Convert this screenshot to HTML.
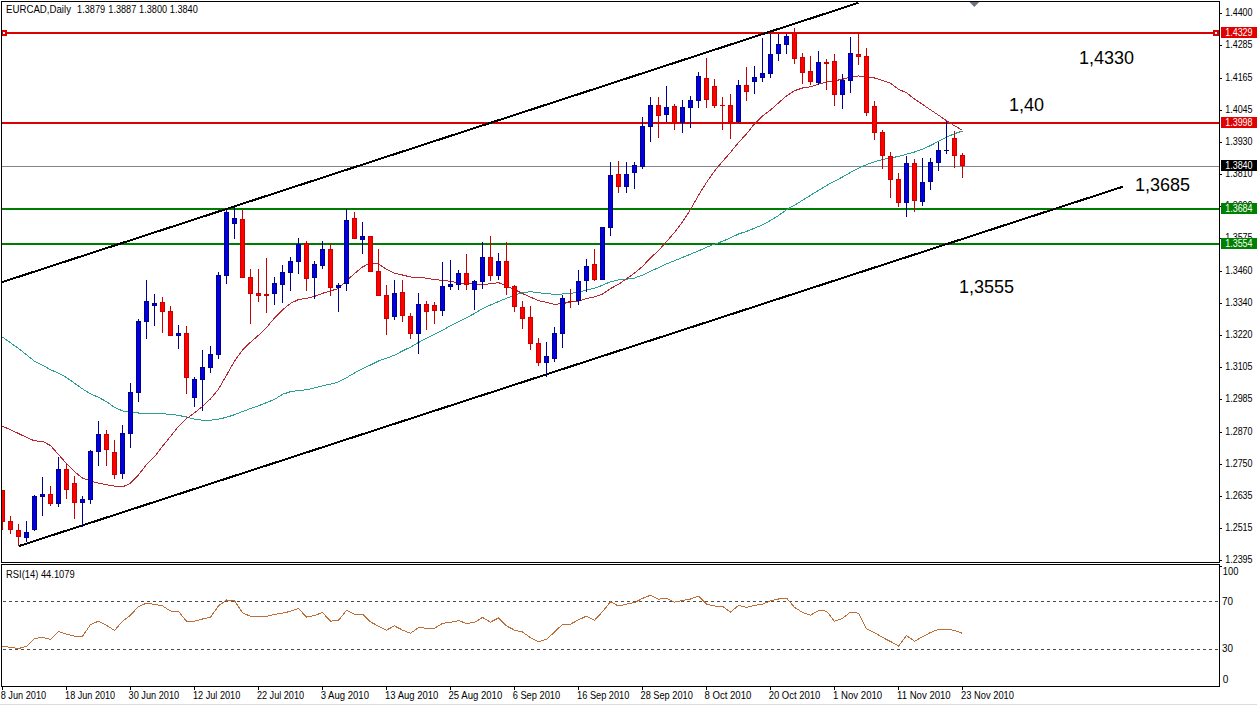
<!DOCTYPE html><html><head><meta charset="utf-8"><title>EURCAD,Daily</title><style>html,body{margin:0;padding:0;background:#fff;width:1257px;height:705px;overflow:hidden}svg{display:block} text{font-family:'Liberation Sans', Arial, sans-serif;}</style></head><body>
<svg width="1257" height="705" viewBox="0 0 1257 705" shape-rendering="crispEdges">
<rect x="0" y="0" width="1257" height="705" fill="#ffffff"/>
<rect x="0" y="704" width="1257" height="1" fill="#dcdcdc"/>
<defs><clipPath id="mc"><rect x="2" y="2" width="1217" height="560"/></clipPath><clipPath id="rc"><rect x="2" y="565" width="1217" height="121"/></clipPath></defs>
<g clip-path="url(#mc)">
<rect x="2" y="32" width="1217" height="2" fill="#dc0000"/>
<rect x="2" y="122" width="1217" height="2" fill="#dc0000"/>
<rect x="2" y="208" width="1217" height="2" fill="#007d00"/>
<rect x="2" y="243" width="1217" height="2" fill="#007d00"/>
<rect x="2" y="166" width="1217" height="1" fill="#80848c"/>
<polyline points="2.5,337.1 10.5,342.8 18.5,348.4 26.5,354.8 34.5,361.2 42.5,365.2 50.5,369.7 58.5,373.3 66.5,377.5 74.5,383.2 82.5,388.9 90.5,393.8 98.5,397.4 106.5,401.6 114.5,407.3 122.5,410.9 130.5,412.3 138.5,413.0 146.5,413.0 154.5,413.4 162.5,413.8 170.5,414.3 178.5,415.4 186.5,417.0 194.5,419.2 202.5,420.2 210.5,420.2 218.5,419.2 226.5,417.3 234.5,414.7 242.5,411.5 250.5,408.6 258.5,405.8 266.5,402.6 274.5,399.4 282.5,394.3 290.5,391.7 298.5,390.4 306.5,389.8 314.5,387.9 322.5,385.8 330.5,384.1 338.5,382.0 346.5,377.7 354.5,373.0 362.5,368.8 370.5,365.0 378.5,361.0 386.5,358.2 394.5,355.2 402.5,351.0 410.5,347.1 418.5,342.5 426.5,338.1 434.5,334.4 442.5,330.2 450.5,325.8 458.5,321.9 466.5,317.8 474.5,313.4 482.5,308.5 490.5,305.0 498.5,301.6 506.5,298.3 514.5,295.0 522.5,292.7 530.5,291.7 538.5,292.6 546.5,293.7 554.5,294.3 562.5,294.0 570.5,293.3 578.5,292.3 586.5,290.1 594.5,288.1 602.5,285.3 610.5,281.7 618.5,279.9 626.5,279.2 634.5,278.1 642.5,275.1 650.5,271.3 658.5,267.7 666.5,263.9 674.5,260.7 682.5,257.4 690.5,254.2 698.5,250.9 706.5,247.3 714.5,244.1 722.5,241.3 730.5,237.9 738.5,234.0 746.5,231.4 754.5,228.2 762.5,224.9 770.5,220.5 778.5,215.5 786.5,209.8 794.5,205.2 802.5,200.3 810.5,195.3 818.5,190.4 826.5,185.5 834.5,181.2 842.5,177.0 850.5,172.4 858.5,168.1 866.5,164.7 874.5,161.7 882.5,159.7 890.5,157.7 898.5,156.6 906.5,154.1 914.5,152.0 922.5,149.2 930.5,145.6 938.5,141.3 946.5,137.2 954.5,133.7 962.5,131.0" fill="none" stroke="#2c9e94" stroke-width="1"/>
<polyline points="2.5,426.3 10.5,429.7 18.5,433.5 26.5,437.4 34.5,440.9 42.5,441.2 50.5,445.6 58.5,454.6 66.5,463.5 74.5,471.7 82.5,478.1 90.5,481.0 98.5,483.2 106.5,484.8 114.5,486.1 122.5,487.0 130.5,483.2 138.5,474.9 146.5,464.7 154.5,456.7 162.5,446.2 170.5,436.5 178.5,426.3 186.5,418.6 194.5,412.8 202.5,406.4 210.5,398.9 218.5,389.2 226.5,375.3 234.5,361.1 242.5,350.0 250.5,342.2 258.5,335.3 266.5,327.5 274.5,318.0 282.5,309.9 290.5,303.4 298.5,299.5 306.5,298.4 314.5,296.4 322.5,293.3 330.5,290.9 338.5,288.5 346.5,280.6 354.5,273.6 362.5,267.0 370.5,262.9 378.5,264.0 386.5,269.3 394.5,273.1 402.5,275.0 410.5,277.0 418.5,277.4 426.5,278.2 434.5,279.6 442.5,280.3 450.5,281.4 458.5,282.9 466.5,283.2 474.5,284.0 482.5,284.4 490.5,283.8 498.5,282.6 506.5,286.1 514.5,289.5 522.5,293.6 530.5,297.2 538.5,300.6 546.5,302.4 554.5,304.4 562.5,303.6 570.5,302.0 578.5,300.9 586.5,298.6 594.5,297.0 602.5,294.1 610.5,288.6 618.5,284.3 626.5,278.8 634.5,273.0 642.5,266.4 650.5,257.9 658.5,250.6 666.5,241.6 674.5,232.4 682.5,221.8 690.5,209.6 698.5,195.2 706.5,182.4 714.5,171.1 722.5,161.4 730.5,152.4 738.5,142.6 746.5,133.9 754.5,123.8 762.5,116.1 770.5,110.0 778.5,102.9 786.5,96.0 794.5,90.7 802.5,88.0 810.5,86.8 818.5,84.2 826.5,82.0 834.5,80.7 842.5,79.3 850.5,77.0 858.5,76.0 866.5,76.6 874.5,78.0 882.5,80.4 890.5,83.3 898.5,89.2 906.5,92.8 914.5,99.0 922.5,104.4 930.5,109.8 938.5,115.1 946.5,120.8 954.5,125.7 962.5,130.4" fill="none" stroke="#b82830" stroke-width="1"/>
<line x1="1" y1="282.5" x2="858.5" y2="2.8" stroke="#000" stroke-width="2"/>
<line x1="18.5" y1="546.2" x2="1122.9" y2="186.7" stroke="#000" stroke-width="2"/>
<rect x="1" y="30" width="6" height="6" fill="#dc0000"/>
<rect x="3" y="32" width="2" height="2" fill="#ffffff"/>
<rect x="1213" y="30" width="6" height="6" fill="#dc0000"/>
<rect x="1215" y="32" width="2" height="2" fill="#ffffff"/>
<rect x="2" y="490" width="1" height="40" fill="#c80000"/>
<rect x="0" y="490" width="5" height="32" fill="#c80000"/>
<rect x="1" y="491" width="3" height="30" fill="#ff0000"/>
<rect x="10" y="516" width="1" height="18" fill="#c80000"/>
<rect x="8" y="521" width="5" height="9" fill="#c80000"/>
<rect x="9" y="522" width="3" height="7" fill="#ff0000"/>
<rect x="18" y="524" width="1" height="22" fill="#c80000"/>
<rect x="16" y="530" width="5" height="7" fill="#c80000"/>
<rect x="17" y="531" width="3" height="5" fill="#ff0000"/>
<rect x="26" y="521" width="1" height="21" fill="#000090"/>
<rect x="24" y="532" width="5" height="6" fill="#000090"/>
<rect x="25" y="533" width="3" height="4" fill="#0000dc"/>
<rect x="34" y="495" width="1" height="36" fill="#000090"/>
<rect x="32" y="496" width="5" height="34" fill="#000090"/>
<rect x="33" y="497" width="3" height="32" fill="#0000dc"/>
<rect x="42" y="477" width="1" height="39" fill="#000090"/>
<rect x="40" y="494" width="5" height="3" fill="#000090"/>
<rect x="41" y="495" width="3" height="1" fill="#0000dc"/>
<rect x="50" y="486" width="1" height="20" fill="#c80000"/>
<rect x="48" y="494" width="5" height="10" fill="#c80000"/>
<rect x="49" y="495" width="3" height="8" fill="#ff0000"/>
<rect x="58" y="457" width="1" height="50" fill="#000090"/>
<rect x="56" y="469" width="5" height="35" fill="#000090"/>
<rect x="57" y="470" width="3" height="33" fill="#0000dc"/>
<rect x="66" y="464" width="1" height="35" fill="#c80000"/>
<rect x="64" y="469" width="5" height="21" fill="#c80000"/>
<rect x="65" y="470" width="3" height="19" fill="#ff0000"/>
<rect x="74" y="476" width="1" height="43" fill="#c80000"/>
<rect x="72" y="483" width="5" height="20" fill="#c80000"/>
<rect x="73" y="484" width="3" height="18" fill="#ff0000"/>
<rect x="82" y="496" width="1" height="31" fill="#000090"/>
<rect x="80" y="499" width="5" height="4" fill="#000090"/>
<rect x="81" y="500" width="3" height="2" fill="#0000dc"/>
<rect x="90" y="450" width="1" height="54" fill="#000090"/>
<rect x="88" y="451" width="5" height="49" fill="#000090"/>
<rect x="89" y="452" width="3" height="47" fill="#0000dc"/>
<rect x="98" y="421" width="1" height="45" fill="#000090"/>
<rect x="96" y="434" width="5" height="18" fill="#000090"/>
<rect x="97" y="435" width="3" height="16" fill="#0000dc"/>
<rect x="106" y="430" width="1" height="36" fill="#c80000"/>
<rect x="104" y="434" width="5" height="16" fill="#c80000"/>
<rect x="105" y="435" width="3" height="14" fill="#ff0000"/>
<rect x="114" y="440" width="1" height="39" fill="#c80000"/>
<rect x="112" y="452" width="5" height="23" fill="#c80000"/>
<rect x="113" y="453" width="3" height="21" fill="#ff0000"/>
<rect x="122" y="425" width="1" height="54" fill="#000090"/>
<rect x="120" y="433" width="5" height="41" fill="#000090"/>
<rect x="121" y="434" width="3" height="39" fill="#0000dc"/>
<rect x="130" y="383" width="1" height="65" fill="#000090"/>
<rect x="128" y="392" width="5" height="42" fill="#000090"/>
<rect x="129" y="393" width="3" height="40" fill="#0000dc"/>
<rect x="138" y="319" width="1" height="83" fill="#000090"/>
<rect x="136" y="321" width="5" height="72" fill="#000090"/>
<rect x="137" y="322" width="3" height="70" fill="#0000dc"/>
<rect x="146" y="280" width="1" height="59" fill="#000090"/>
<rect x="144" y="301" width="5" height="21" fill="#000090"/>
<rect x="145" y="302" width="3" height="19" fill="#0000dc"/>
<rect x="154" y="294" width="1" height="32" fill="#000090"/>
<rect x="152" y="303" width="5" height="3" fill="#000090"/>
<rect x="153" y="304" width="3" height="1" fill="#0000dc"/>
<rect x="162" y="297" width="1" height="36" fill="#c80000"/>
<rect x="160" y="302" width="5" height="10" fill="#c80000"/>
<rect x="161" y="303" width="3" height="8" fill="#ff0000"/>
<rect x="170" y="306" width="1" height="30" fill="#c80000"/>
<rect x="168" y="311" width="5" height="25" fill="#c80000"/>
<rect x="169" y="312" width="3" height="23" fill="#ff0000"/>
<rect x="178" y="325" width="1" height="24" fill="#000090"/>
<rect x="176" y="333" width="5" height="3" fill="#000090"/>
<rect x="177" y="334" width="3" height="1" fill="#0000dc"/>
<rect x="186" y="326" width="1" height="68" fill="#c80000"/>
<rect x="184" y="333" width="5" height="45" fill="#c80000"/>
<rect x="185" y="334" width="3" height="43" fill="#ff0000"/>
<rect x="194" y="377" width="1" height="30" fill="#000090"/>
<rect x="192" y="379" width="5" height="19" fill="#000090"/>
<rect x="193" y="380" width="3" height="17" fill="#0000dc"/>
<rect x="202" y="350" width="1" height="61" fill="#000090"/>
<rect x="200" y="367" width="5" height="13" fill="#000090"/>
<rect x="201" y="368" width="3" height="11" fill="#0000dc"/>
<rect x="210" y="346" width="1" height="27" fill="#000090"/>
<rect x="208" y="354" width="5" height="14" fill="#000090"/>
<rect x="209" y="355" width="3" height="12" fill="#0000dc"/>
<rect x="218" y="272" width="1" height="87" fill="#000090"/>
<rect x="216" y="275" width="5" height="80" fill="#000090"/>
<rect x="217" y="276" width="3" height="78" fill="#0000dc"/>
<rect x="226" y="210" width="1" height="74" fill="#000090"/>
<rect x="224" y="212" width="5" height="64" fill="#000090"/>
<rect x="225" y="213" width="3" height="62" fill="#0000dc"/>
<rect x="234" y="207" width="1" height="32" fill="#000090"/>
<rect x="232" y="218" width="5" height="6" fill="#000090"/>
<rect x="233" y="219" width="3" height="4" fill="#0000dc"/>
<rect x="242" y="210" width="1" height="68" fill="#c80000"/>
<rect x="240" y="219" width="5" height="59" fill="#c80000"/>
<rect x="241" y="220" width="3" height="57" fill="#ff0000"/>
<rect x="250" y="269" width="1" height="55" fill="#c80000"/>
<rect x="248" y="277" width="5" height="17" fill="#c80000"/>
<rect x="249" y="278" width="3" height="15" fill="#ff0000"/>
<rect x="258" y="269" width="1" height="33" fill="#c80000"/>
<rect x="256" y="293" width="5" height="3" fill="#c80000"/>
<rect x="257" y="294" width="3" height="1" fill="#ff0000"/>
<rect x="266" y="258" width="1" height="55" fill="#c80000"/>
<rect x="264" y="294" width="5" height="2" fill="#c80000"/>
<rect x="274" y="277" width="1" height="28" fill="#000090"/>
<rect x="272" y="283" width="5" height="11" fill="#000090"/>
<rect x="273" y="284" width="3" height="9" fill="#0000dc"/>
<rect x="282" y="265" width="1" height="38" fill="#000090"/>
<rect x="280" y="272" width="5" height="13" fill="#000090"/>
<rect x="281" y="273" width="3" height="11" fill="#0000dc"/>
<rect x="290" y="257" width="1" height="34" fill="#000090"/>
<rect x="288" y="261" width="5" height="12" fill="#000090"/>
<rect x="289" y="262" width="3" height="10" fill="#0000dc"/>
<rect x="298" y="238" width="1" height="36" fill="#000090"/>
<rect x="296" y="244" width="5" height="18" fill="#000090"/>
<rect x="297" y="245" width="3" height="16" fill="#0000dc"/>
<rect x="306" y="241" width="1" height="50" fill="#c80000"/>
<rect x="304" y="243" width="5" height="36" fill="#c80000"/>
<rect x="305" y="244" width="3" height="34" fill="#ff0000"/>
<rect x="314" y="261" width="1" height="38" fill="#000090"/>
<rect x="312" y="264" width="5" height="14" fill="#000090"/>
<rect x="313" y="265" width="3" height="12" fill="#0000dc"/>
<rect x="322" y="241" width="1" height="28" fill="#000090"/>
<rect x="320" y="249" width="5" height="17" fill="#000090"/>
<rect x="321" y="250" width="3" height="15" fill="#0000dc"/>
<rect x="330" y="243" width="1" height="53" fill="#c80000"/>
<rect x="328" y="249" width="5" height="39" fill="#c80000"/>
<rect x="329" y="250" width="3" height="37" fill="#ff0000"/>
<rect x="338" y="283" width="1" height="29" fill="#000090"/>
<rect x="336" y="285" width="5" height="3" fill="#000090"/>
<rect x="337" y="286" width="3" height="1" fill="#0000dc"/>
<rect x="346" y="209" width="1" height="82" fill="#000090"/>
<rect x="344" y="220" width="5" height="64" fill="#000090"/>
<rect x="345" y="221" width="3" height="62" fill="#0000dc"/>
<rect x="354" y="212" width="1" height="27" fill="#c80000"/>
<rect x="352" y="218" width="5" height="21" fill="#c80000"/>
<rect x="353" y="219" width="3" height="19" fill="#ff0000"/>
<rect x="362" y="222" width="1" height="32" fill="#000090"/>
<rect x="360" y="236" width="5" height="4" fill="#000090"/>
<rect x="361" y="237" width="3" height="2" fill="#0000dc"/>
<rect x="370" y="236" width="1" height="36" fill="#c80000"/>
<rect x="368" y="236" width="5" height="36" fill="#c80000"/>
<rect x="369" y="237" width="3" height="34" fill="#ff0000"/>
<rect x="378" y="249" width="1" height="47" fill="#c80000"/>
<rect x="376" y="271" width="5" height="25" fill="#c80000"/>
<rect x="377" y="272" width="3" height="23" fill="#ff0000"/>
<rect x="386" y="285" width="1" height="50" fill="#c80000"/>
<rect x="384" y="295" width="5" height="24" fill="#c80000"/>
<rect x="385" y="296" width="3" height="22" fill="#ff0000"/>
<rect x="394" y="280" width="1" height="40" fill="#000090"/>
<rect x="392" y="293" width="5" height="24" fill="#000090"/>
<rect x="393" y="294" width="3" height="22" fill="#0000dc"/>
<rect x="402" y="280" width="1" height="42" fill="#c80000"/>
<rect x="400" y="292" width="5" height="24" fill="#c80000"/>
<rect x="401" y="293" width="3" height="22" fill="#ff0000"/>
<rect x="410" y="313" width="1" height="26" fill="#c80000"/>
<rect x="408" y="316" width="5" height="18" fill="#c80000"/>
<rect x="409" y="317" width="3" height="16" fill="#ff0000"/>
<rect x="418" y="293" width="1" height="61" fill="#000090"/>
<rect x="416" y="304" width="5" height="30" fill="#000090"/>
<rect x="417" y="305" width="3" height="28" fill="#0000dc"/>
<rect x="426" y="301" width="1" height="29" fill="#c80000"/>
<rect x="424" y="304" width="5" height="8" fill="#c80000"/>
<rect x="425" y="305" width="3" height="6" fill="#ff0000"/>
<rect x="434" y="302" width="1" height="22" fill="#c80000"/>
<rect x="432" y="305" width="5" height="6" fill="#c80000"/>
<rect x="433" y="306" width="3" height="4" fill="#ff0000"/>
<rect x="442" y="262" width="1" height="54" fill="#000090"/>
<rect x="440" y="286" width="5" height="25" fill="#000090"/>
<rect x="441" y="287" width="3" height="23" fill="#0000dc"/>
<rect x="450" y="260" width="1" height="30" fill="#000090"/>
<rect x="448" y="284" width="5" height="3" fill="#000090"/>
<rect x="449" y="285" width="3" height="1" fill="#0000dc"/>
<rect x="458" y="270" width="1" height="20" fill="#000090"/>
<rect x="456" y="273" width="5" height="12" fill="#000090"/>
<rect x="457" y="274" width="3" height="10" fill="#0000dc"/>
<rect x="466" y="254" width="1" height="36" fill="#c80000"/>
<rect x="464" y="273" width="5" height="12" fill="#c80000"/>
<rect x="465" y="274" width="3" height="10" fill="#ff0000"/>
<rect x="474" y="280" width="1" height="30" fill="#000090"/>
<rect x="472" y="281" width="5" height="9" fill="#000090"/>
<rect x="473" y="282" width="3" height="7" fill="#0000dc"/>
<rect x="482" y="242" width="1" height="47" fill="#000090"/>
<rect x="480" y="257" width="5" height="25" fill="#000090"/>
<rect x="481" y="258" width="3" height="23" fill="#0000dc"/>
<rect x="490" y="236" width="1" height="45" fill="#c80000"/>
<rect x="488" y="257" width="5" height="19" fill="#c80000"/>
<rect x="489" y="258" width="3" height="17" fill="#ff0000"/>
<rect x="498" y="253" width="1" height="27" fill="#000090"/>
<rect x="496" y="261" width="5" height="15" fill="#000090"/>
<rect x="497" y="262" width="3" height="13" fill="#0000dc"/>
<rect x="506" y="242" width="1" height="53" fill="#c80000"/>
<rect x="504" y="261" width="5" height="27" fill="#c80000"/>
<rect x="505" y="262" width="3" height="25" fill="#ff0000"/>
<rect x="514" y="285" width="1" height="27" fill="#c80000"/>
<rect x="512" y="286" width="5" height="21" fill="#c80000"/>
<rect x="513" y="287" width="3" height="19" fill="#ff0000"/>
<rect x="522" y="301" width="1" height="28" fill="#c80000"/>
<rect x="520" y="307" width="5" height="12" fill="#c80000"/>
<rect x="521" y="308" width="3" height="10" fill="#ff0000"/>
<rect x="530" y="306" width="1" height="44" fill="#c80000"/>
<rect x="528" y="317" width="5" height="27" fill="#c80000"/>
<rect x="529" y="318" width="3" height="25" fill="#ff0000"/>
<rect x="538" y="338" width="1" height="28" fill="#c80000"/>
<rect x="536" y="343" width="5" height="20" fill="#c80000"/>
<rect x="537" y="344" width="3" height="18" fill="#ff0000"/>
<rect x="546" y="342" width="1" height="35" fill="#000090"/>
<rect x="544" y="356" width="5" height="7" fill="#000090"/>
<rect x="545" y="357" width="3" height="5" fill="#0000dc"/>
<rect x="554" y="327" width="1" height="35" fill="#000090"/>
<rect x="552" y="333" width="5" height="26" fill="#000090"/>
<rect x="553" y="334" width="3" height="24" fill="#0000dc"/>
<rect x="562" y="295" width="1" height="53" fill="#000090"/>
<rect x="560" y="298" width="5" height="36" fill="#000090"/>
<rect x="561" y="299" width="3" height="34" fill="#0000dc"/>
<rect x="570" y="289" width="1" height="19" fill="#c80000"/>
<rect x="568" y="301" width="5" height="1" fill="#c80000"/>
<rect x="578" y="270" width="1" height="35" fill="#000090"/>
<rect x="576" y="281" width="5" height="20" fill="#000090"/>
<rect x="577" y="282" width="3" height="18" fill="#0000dc"/>
<rect x="586" y="259" width="1" height="33" fill="#000090"/>
<rect x="584" y="266" width="5" height="15" fill="#000090"/>
<rect x="585" y="267" width="3" height="13" fill="#0000dc"/>
<rect x="594" y="249" width="1" height="32" fill="#c80000"/>
<rect x="592" y="264" width="5" height="16" fill="#c80000"/>
<rect x="593" y="265" width="3" height="14" fill="#ff0000"/>
<rect x="602" y="227" width="1" height="53" fill="#000090"/>
<rect x="600" y="227" width="5" height="53" fill="#000090"/>
<rect x="601" y="228" width="3" height="51" fill="#0000dc"/>
<rect x="610" y="162" width="1" height="74" fill="#000090"/>
<rect x="608" y="175" width="5" height="53" fill="#000090"/>
<rect x="609" y="176" width="3" height="51" fill="#0000dc"/>
<rect x="618" y="161" width="1" height="32" fill="#c80000"/>
<rect x="616" y="174" width="5" height="13" fill="#c80000"/>
<rect x="617" y="175" width="3" height="11" fill="#ff0000"/>
<rect x="626" y="162" width="1" height="31" fill="#000090"/>
<rect x="624" y="174" width="5" height="13" fill="#000090"/>
<rect x="625" y="175" width="3" height="11" fill="#0000dc"/>
<rect x="634" y="162" width="1" height="27" fill="#000090"/>
<rect x="632" y="165" width="5" height="8" fill="#000090"/>
<rect x="633" y="166" width="3" height="6" fill="#0000dc"/>
<rect x="642" y="117" width="1" height="52" fill="#000090"/>
<rect x="640" y="126" width="5" height="41" fill="#000090"/>
<rect x="641" y="127" width="3" height="39" fill="#0000dc"/>
<rect x="650" y="97" width="1" height="45" fill="#000090"/>
<rect x="648" y="105" width="5" height="22" fill="#000090"/>
<rect x="649" y="106" width="3" height="20" fill="#0000dc"/>
<rect x="658" y="97" width="1" height="41" fill="#c80000"/>
<rect x="656" y="105" width="5" height="11" fill="#c80000"/>
<rect x="657" y="106" width="3" height="9" fill="#ff0000"/>
<rect x="666" y="86" width="1" height="36" fill="#000090"/>
<rect x="664" y="107" width="5" height="8" fill="#000090"/>
<rect x="665" y="108" width="3" height="6" fill="#0000dc"/>
<rect x="674" y="104" width="1" height="26" fill="#c80000"/>
<rect x="672" y="106" width="5" height="17" fill="#c80000"/>
<rect x="673" y="107" width="3" height="15" fill="#ff0000"/>
<rect x="682" y="100" width="1" height="33" fill="#000090"/>
<rect x="680" y="107" width="5" height="16" fill="#000090"/>
<rect x="681" y="108" width="3" height="14" fill="#0000dc"/>
<rect x="690" y="96" width="1" height="32" fill="#000090"/>
<rect x="688" y="100" width="5" height="8" fill="#000090"/>
<rect x="689" y="101" width="3" height="6" fill="#0000dc"/>
<rect x="698" y="72" width="1" height="36" fill="#000090"/>
<rect x="696" y="76" width="5" height="25" fill="#000090"/>
<rect x="697" y="77" width="3" height="23" fill="#0000dc"/>
<rect x="706" y="58" width="1" height="50" fill="#c80000"/>
<rect x="704" y="78" width="5" height="22" fill="#c80000"/>
<rect x="705" y="79" width="3" height="20" fill="#ff0000"/>
<rect x="714" y="79" width="1" height="29" fill="#c80000"/>
<rect x="712" y="86" width="5" height="20" fill="#c80000"/>
<rect x="713" y="87" width="3" height="18" fill="#ff0000"/>
<rect x="722" y="97" width="1" height="33" fill="#c80000"/>
<rect x="720" y="105" width="5" height="1" fill="#c80000"/>
<rect x="730" y="94" width="1" height="45" fill="#c80000"/>
<rect x="728" y="105" width="5" height="17" fill="#c80000"/>
<rect x="729" y="106" width="3" height="15" fill="#ff0000"/>
<rect x="738" y="80" width="1" height="43" fill="#000090"/>
<rect x="736" y="85" width="5" height="37" fill="#000090"/>
<rect x="737" y="86" width="3" height="35" fill="#0000dc"/>
<rect x="746" y="67" width="1" height="34" fill="#c80000"/>
<rect x="744" y="85" width="5" height="7" fill="#c80000"/>
<rect x="745" y="86" width="3" height="5" fill="#ff0000"/>
<rect x="754" y="66" width="1" height="28" fill="#000090"/>
<rect x="752" y="77" width="5" height="5" fill="#000090"/>
<rect x="753" y="78" width="3" height="3" fill="#0000dc"/>
<rect x="762" y="38" width="1" height="44" fill="#000090"/>
<rect x="760" y="73" width="5" height="5" fill="#000090"/>
<rect x="761" y="74" width="3" height="3" fill="#0000dc"/>
<rect x="770" y="34" width="1" height="44" fill="#000090"/>
<rect x="768" y="54" width="5" height="20" fill="#000090"/>
<rect x="769" y="55" width="3" height="18" fill="#0000dc"/>
<rect x="778" y="34" width="1" height="27" fill="#000090"/>
<rect x="776" y="44" width="5" height="10" fill="#000090"/>
<rect x="777" y="45" width="3" height="8" fill="#0000dc"/>
<rect x="786" y="34" width="1" height="20" fill="#000090"/>
<rect x="784" y="36" width="5" height="9" fill="#000090"/>
<rect x="785" y="37" width="3" height="7" fill="#0000dc"/>
<rect x="794" y="28" width="1" height="36" fill="#c80000"/>
<rect x="792" y="33" width="5" height="26" fill="#c80000"/>
<rect x="793" y="34" width="3" height="24" fill="#ff0000"/>
<rect x="802" y="53" width="1" height="31" fill="#c80000"/>
<rect x="800" y="57" width="5" height="16" fill="#c80000"/>
<rect x="801" y="58" width="3" height="14" fill="#ff0000"/>
<rect x="810" y="56" width="1" height="29" fill="#c80000"/>
<rect x="808" y="71" width="5" height="11" fill="#c80000"/>
<rect x="809" y="72" width="3" height="9" fill="#ff0000"/>
<rect x="818" y="51" width="1" height="34" fill="#000090"/>
<rect x="816" y="62" width="5" height="21" fill="#000090"/>
<rect x="817" y="63" width="3" height="19" fill="#0000dc"/>
<rect x="826" y="59" width="1" height="31" fill="#c80000"/>
<rect x="824" y="62" width="5" height="2" fill="#c80000"/>
<rect x="834" y="54" width="1" height="52" fill="#c80000"/>
<rect x="832" y="61" width="5" height="34" fill="#c80000"/>
<rect x="833" y="62" width="3" height="32" fill="#ff0000"/>
<rect x="842" y="74" width="1" height="35" fill="#000090"/>
<rect x="840" y="80" width="5" height="15" fill="#000090"/>
<rect x="841" y="81" width="3" height="13" fill="#0000dc"/>
<rect x="850" y="37" width="1" height="56" fill="#000090"/>
<rect x="848" y="53" width="5" height="28" fill="#000090"/>
<rect x="849" y="54" width="3" height="26" fill="#0000dc"/>
<rect x="858" y="33" width="1" height="32" fill="#c80000"/>
<rect x="856" y="54" width="5" height="3" fill="#c80000"/>
<rect x="857" y="55" width="3" height="1" fill="#ff0000"/>
<rect x="866" y="48" width="1" height="68" fill="#c80000"/>
<rect x="864" y="56" width="5" height="57" fill="#c80000"/>
<rect x="865" y="57" width="3" height="55" fill="#ff0000"/>
<rect x="874" y="101" width="1" height="39" fill="#c80000"/>
<rect x="872" y="106" width="5" height="27" fill="#c80000"/>
<rect x="873" y="107" width="3" height="25" fill="#ff0000"/>
<rect x="882" y="130" width="1" height="39" fill="#c80000"/>
<rect x="880" y="132" width="5" height="24" fill="#c80000"/>
<rect x="881" y="133" width="3" height="22" fill="#ff0000"/>
<rect x="890" y="152" width="1" height="46" fill="#c80000"/>
<rect x="888" y="156" width="5" height="24" fill="#c80000"/>
<rect x="889" y="157" width="3" height="22" fill="#ff0000"/>
<rect x="898" y="173" width="1" height="34" fill="#c80000"/>
<rect x="896" y="179" width="5" height="24" fill="#c80000"/>
<rect x="897" y="180" width="3" height="22" fill="#ff0000"/>
<rect x="906" y="156" width="1" height="61" fill="#000090"/>
<rect x="904" y="163" width="5" height="40" fill="#000090"/>
<rect x="905" y="164" width="3" height="38" fill="#0000dc"/>
<rect x="914" y="159" width="1" height="53" fill="#c80000"/>
<rect x="912" y="163" width="5" height="38" fill="#c80000"/>
<rect x="913" y="164" width="3" height="36" fill="#ff0000"/>
<rect x="922" y="158" width="1" height="48" fill="#000090"/>
<rect x="920" y="182" width="5" height="20" fill="#000090"/>
<rect x="921" y="183" width="3" height="18" fill="#0000dc"/>
<rect x="930" y="158" width="1" height="32" fill="#000090"/>
<rect x="928" y="162" width="5" height="20" fill="#000090"/>
<rect x="929" y="163" width="3" height="18" fill="#0000dc"/>
<rect x="938" y="142" width="1" height="29" fill="#000090"/>
<rect x="936" y="150" width="5" height="13" fill="#000090"/>
<rect x="937" y="151" width="3" height="11" fill="#0000dc"/>
<rect x="946" y="121" width="1" height="33" fill="#000090"/>
<rect x="944" y="150" width="5" height="1" fill="#000090"/>
<rect x="954" y="131" width="1" height="37" fill="#c80000"/>
<rect x="952" y="138" width="5" height="18" fill="#c80000"/>
<rect x="953" y="139" width="3" height="16" fill="#ff0000"/>
<rect x="962" y="153" width="1" height="25" fill="#c80000"/>
<rect x="960" y="155" width="5" height="11" fill="#c80000"/>
<rect x="961" y="156" width="3" height="9" fill="#ff0000"/>
<polygon points="969.5,2 979.2,2 974.3,7" fill="#6e7680" shape-rendering="auto"/>
<text x="1079" y="64" font-size="18" fill="#000" >1,4330</text>
<text x="1009" y="111" font-size="18" fill="#000" >1,40</text>
<text x="1135" y="191" font-size="18" fill="#000" >1,3685</text>
<text x="959" y="293" font-size="18" fill="#000" >1,3555</text>
</g>
<text x="6.0" y="13" font-size="10.0" fill="#000" textLength="65.0" lengthAdjust="spacingAndGlyphs" >EURCAD,Daily</text>
<text x="77.10000000000001" y="13" font-size="10.0" fill="#000" textLength="28.0" lengthAdjust="spacingAndGlyphs" >1.3879</text>
<text x="108.30000000000001" y="13" font-size="10.0" fill="#000" textLength="28.0" lengthAdjust="spacingAndGlyphs" >1.3887</text>
<text x="139.1" y="13" font-size="10.0" fill="#000" textLength="28.0" lengthAdjust="spacingAndGlyphs" >1.3800</text>
<text x="169.8" y="13" font-size="10.0" fill="#000" textLength="28.0" lengthAdjust="spacingAndGlyphs" >1.3840</text>
<rect x="1.5" y="1.5" width="1218" height="561" fill="none" stroke="#000" stroke-width="1"/>
<rect x="1.5" y="564.5" width="1218" height="122" fill="none" stroke="#000" stroke-width="1"/>
<rect x="1220" y="13" width="2" height="1" fill="#000"/>
<text x="1225.2" y="16" font-size="10.0" fill="#000" textLength="27.4" lengthAdjust="spacingAndGlyphs" >1.4400</text>
<rect x="1220" y="45" width="2" height="1" fill="#000"/>
<text x="1225.2" y="48" font-size="10.0" fill="#000" textLength="27.4" lengthAdjust="spacingAndGlyphs" >1.4285</text>
<rect x="1220" y="78" width="2" height="1" fill="#000"/>
<text x="1225.2" y="81" font-size="10.0" fill="#000" textLength="27.4" lengthAdjust="spacingAndGlyphs" >1.4165</text>
<rect x="1220" y="110" width="2" height="1" fill="#000"/>
<text x="1225.2" y="113" font-size="10.0" fill="#000" textLength="27.4" lengthAdjust="spacingAndGlyphs" >1.4045</text>
<rect x="1220" y="142" width="2" height="1" fill="#000"/>
<text x="1225.2" y="145" font-size="10.0" fill="#000" textLength="27.4" lengthAdjust="spacingAndGlyphs" >1.3930</text>
<rect x="1220" y="174" width="2" height="1" fill="#000"/>
<text x="1225.2" y="177" font-size="10.0" fill="#000" textLength="27.4" lengthAdjust="spacingAndGlyphs" >1.3810</text>
<rect x="1220" y="206" width="2" height="1" fill="#000"/>
<text x="1225.2" y="209" font-size="10.0" fill="#000" textLength="27.4" lengthAdjust="spacingAndGlyphs" >1.3690</text>
<rect x="1220" y="238" width="2" height="1" fill="#000"/>
<text x="1225.2" y="241" font-size="10.0" fill="#000" textLength="27.4" lengthAdjust="spacingAndGlyphs" >1.3575</text>
<rect x="1220" y="271" width="2" height="1" fill="#000"/>
<text x="1225.2" y="274" font-size="10.0" fill="#000" textLength="27.4" lengthAdjust="spacingAndGlyphs" >1.3460</text>
<rect x="1220" y="303" width="2" height="1" fill="#000"/>
<text x="1225.2" y="306" font-size="10.0" fill="#000" textLength="27.4" lengthAdjust="spacingAndGlyphs" >1.3340</text>
<rect x="1220" y="335" width="2" height="1" fill="#000"/>
<text x="1225.2" y="338" font-size="10.0" fill="#000" textLength="27.4" lengthAdjust="spacingAndGlyphs" >1.3220</text>
<rect x="1220" y="367" width="2" height="1" fill="#000"/>
<text x="1225.2" y="370" font-size="10.0" fill="#000" textLength="27.4" lengthAdjust="spacingAndGlyphs" >1.3105</text>
<rect x="1220" y="399" width="2" height="1" fill="#000"/>
<text x="1225.2" y="402" font-size="10.0" fill="#000" textLength="27.4" lengthAdjust="spacingAndGlyphs" >1.2985</text>
<rect x="1220" y="432" width="2" height="1" fill="#000"/>
<text x="1225.2" y="435" font-size="10.0" fill="#000" textLength="27.4" lengthAdjust="spacingAndGlyphs" >1.2870</text>
<rect x="1220" y="464" width="2" height="1" fill="#000"/>
<text x="1225.2" y="467" font-size="10.0" fill="#000" textLength="27.4" lengthAdjust="spacingAndGlyphs" >1.2750</text>
<rect x="1220" y="496" width="2" height="1" fill="#000"/>
<text x="1225.2" y="499" font-size="10.0" fill="#000" textLength="27.4" lengthAdjust="spacingAndGlyphs" >1.2635</text>
<rect x="1220" y="528" width="2" height="1" fill="#000"/>
<text x="1225.2" y="531" font-size="10.0" fill="#000" textLength="27.4" lengthAdjust="spacingAndGlyphs" >1.2515</text>
<rect x="1220" y="560" width="2" height="1" fill="#000"/>
<text x="1225.2" y="563" font-size="10.0" fill="#000" textLength="27.4" lengthAdjust="spacingAndGlyphs" >1.2395</text>
<rect x="1221" y="27" width="36" height="11" fill="#e00000"/>
<text x="1225.2" y="36" font-size="10.0" fill="#ffffff" textLength="27.4" lengthAdjust="spacingAndGlyphs" >1.4329</text>
<rect x="1221" y="117" width="36" height="11" fill="#e00000"/>
<text x="1225.2" y="126" font-size="10.0" fill="#ffffff" textLength="27.4" lengthAdjust="spacingAndGlyphs" >1.3998</text>
<rect x="1221" y="160" width="36" height="11" fill="#000000"/>
<text x="1225.2" y="169" font-size="10.0" fill="#ffffff" textLength="27.4" lengthAdjust="spacingAndGlyphs" >1.3840</text>
<rect x="1221" y="203" width="36" height="11" fill="#008000"/>
<text x="1225.2" y="212" font-size="10.0" fill="#ffffff" textLength="27.4" lengthAdjust="spacingAndGlyphs" >1.3684</text>
<rect x="1221" y="238" width="36" height="11" fill="#008000"/>
<text x="1225.2" y="247" font-size="10.0" fill="#ffffff" textLength="27.4" lengthAdjust="spacingAndGlyphs" >1.3554</text>
<g clip-path="url(#rc)">
<line x1="3" y1="601.5" x2="1219" y2="601.5" stroke="#4a4a4a" stroke-width="1" stroke-dasharray="3,3"/>
<line x1="3" y1="649.5" x2="1219" y2="649.5" stroke="#4a4a4a" stroke-width="1" stroke-dasharray="3,3"/>
<polyline points="2.5,646.3 10.5,647.3 18.5,648.6 26.5,646.3 34.5,638.4 42.5,637.4 50.5,639.4 58.5,631.4 66.5,634.2 74.5,636.1 82.5,636.3 90.5,624.6 98.5,621.2 106.5,625.3 114.5,630.5 122.5,621.2 130.5,615.2 138.5,606.5 146.5,603.2 154.5,604.3 162.5,605.9 170.5,611.0 178.5,611.4 186.5,621.2 194.5,621.2 202.5,619.0 210.5,617.1 218.5,605.9 226.5,599.9 234.5,600.8 242.5,612.9 250.5,616.3 258.5,616.5 266.5,616.3 274.5,614.4 282.5,613.2 290.5,611.3 298.5,608.5 306.5,617.1 314.5,615.5 322.5,612.5 330.5,621.2 338.5,620.3 346.5,610.4 354.5,614.2 362.5,614.2 370.5,621.8 378.5,626.3 386.5,630.1 394.5,625.9 402.5,630.1 410.5,633.3 418.5,627.6 426.5,628.2 434.5,628.2 442.5,623.4 450.5,622.3 458.5,620.6 466.5,623.4 474.5,622.5 482.5,617.4 490.5,622.1 498.5,618.0 506.5,625.9 514.5,630.1 522.5,632.0 530.5,637.7 538.5,641.6 546.5,639.4 554.5,632.0 562.5,624.4 570.5,624.1 578.5,619.9 586.5,616.1 594.5,620.3 602.5,611.7 610.5,601.8 618.5,606.0 626.5,604.1 634.5,602.6 642.5,598.4 650.5,595.2 658.5,599.3 666.5,598.1 674.5,602.2 682.5,600.5 690.5,599.0 698.5,596.2 706.5,604.1 714.5,606.0 722.5,606.4 730.5,612.0 738.5,605.4 746.5,607.3 754.5,605.4 762.5,604.1 770.5,600.9 778.5,599.0 786.5,598.1 794.5,607.3 802.5,612.4 810.5,615.3 818.5,610.5 826.5,611.1 834.5,621.3 842.5,618.4 850.5,612.1 858.5,613.3 866.5,628.9 874.5,632.7 882.5,637.4 890.5,641.5 898.5,646.0 906.5,635.6 914.5,641.2 922.5,636.8 930.5,632.5 938.5,629.4 946.5,629.1 954.5,630.4 962.5,633.4" fill="none" stroke="#bc7038" stroke-width="1"/>
</g>
<text x="6.1" y="578" font-size="10.0" fill="#000" textLength="68.6" lengthAdjust="spacingAndGlyphs" >RSI(14) 44.1079</text>
<rect x="1220" y="566" width="2" height="1" fill="#000"/>
<text x="1222.8" y="575" font-size="10.0" fill="#000" textLength="15.6" lengthAdjust="spacingAndGlyphs" >100</text>
<text x="1221.9" y="604.5" font-size="10.0" fill="#000" textLength="11.0" lengthAdjust="spacingAndGlyphs" >70</text>
<text x="1221.9" y="652" font-size="10.0" fill="#000" textLength="11.0" lengthAdjust="spacingAndGlyphs" >30</text>
<text x="1222.8" y="683" font-size="10.0" fill="#000" textLength="5.6" lengthAdjust="spacingAndGlyphs" >0</text>
<rect x="2" y="687" width="1" height="3" fill="#000"/>
<text x="0.7000000000000001" y="699" font-size="10.0" fill="#000" textLength="45.4" lengthAdjust="spacingAndGlyphs" >8 Jun 2010</text>
<rect x="66" y="687" width="1" height="3" fill="#000"/>
<text x="65.10000000000001" y="699" font-size="10.0" fill="#000" textLength="50.0" lengthAdjust="spacingAndGlyphs" >18 Jun 2010</text>
<rect x="130" y="687" width="1" height="3" fill="#000"/>
<text x="128.6" y="699" font-size="10.0" fill="#000" textLength="50.6" lengthAdjust="spacingAndGlyphs" >30 Jun 2010</text>
<rect x="194" y="687" width="1" height="3" fill="#000"/>
<text x="192.9" y="699" font-size="10.0" fill="#000" textLength="47.4" lengthAdjust="spacingAndGlyphs" >12 Jul 2010</text>
<rect x="258" y="687" width="1" height="3" fill="#000"/>
<text x="256.9" y="699" font-size="10.0" fill="#000" textLength="47.2" lengthAdjust="spacingAndGlyphs" >22 Jul 2010</text>
<rect x="322" y="687" width="1" height="3" fill="#000"/>
<text x="320.7" y="699" font-size="10.0" fill="#000" textLength="48.3" lengthAdjust="spacingAndGlyphs" >3 Aug 2010</text>
<rect x="386" y="687" width="1" height="3" fill="#000"/>
<text x="385.09999999999997" y="699" font-size="10.0" fill="#000" textLength="53.2" lengthAdjust="spacingAndGlyphs" >13 Aug 2010</text>
<rect x="450" y="687" width="1" height="3" fill="#000"/>
<text x="448.5" y="699" font-size="10.0" fill="#000" textLength="53.7" lengthAdjust="spacingAndGlyphs" >25 Aug 2010</text>
<rect x="514" y="687" width="1" height="3" fill="#000"/>
<text x="512.6999999999999" y="699" font-size="10.0" fill="#000" textLength="47.5" lengthAdjust="spacingAndGlyphs" >6 Sep 2010</text>
<rect x="578" y="687" width="1" height="3" fill="#000"/>
<text x="577.1" y="699" font-size="10.0" fill="#000" textLength="52.2" lengthAdjust="spacingAndGlyphs" >16 Sep 2010</text>
<rect x="642" y="687" width="1" height="3" fill="#000"/>
<text x="640.5" y="699" font-size="10.0" fill="#000" textLength="52.3" lengthAdjust="spacingAndGlyphs" >28 Sep 2010</text>
<rect x="706" y="687" width="1" height="3" fill="#000"/>
<text x="704.4" y="699" font-size="10.0" fill="#000" textLength="47.0" lengthAdjust="spacingAndGlyphs" >8 Oct 2010</text>
<rect x="770" y="687" width="1" height="3" fill="#000"/>
<text x="768.6999999999999" y="699" font-size="10.0" fill="#000" textLength="51.6" lengthAdjust="spacingAndGlyphs" >20 Oct 2010</text>
<rect x="834" y="687" width="1" height="3" fill="#000"/>
<text x="833.0" y="699" font-size="10.0" fill="#000" textLength="49.2" lengthAdjust="spacingAndGlyphs" >1 Nov 2010</text>
<rect x="898" y="687" width="1" height="3" fill="#000"/>
<text x="897.1" y="699" font-size="10.0" fill="#000" textLength="53.6" lengthAdjust="spacingAndGlyphs" >11 Nov 2010</text>
<rect x="962" y="687" width="1" height="3" fill="#000"/>
<text x="961.0" y="699" font-size="10.0" fill="#000" textLength="53.0" lengthAdjust="spacingAndGlyphs" >23 Nov 2010</text>
</svg></body></html>
